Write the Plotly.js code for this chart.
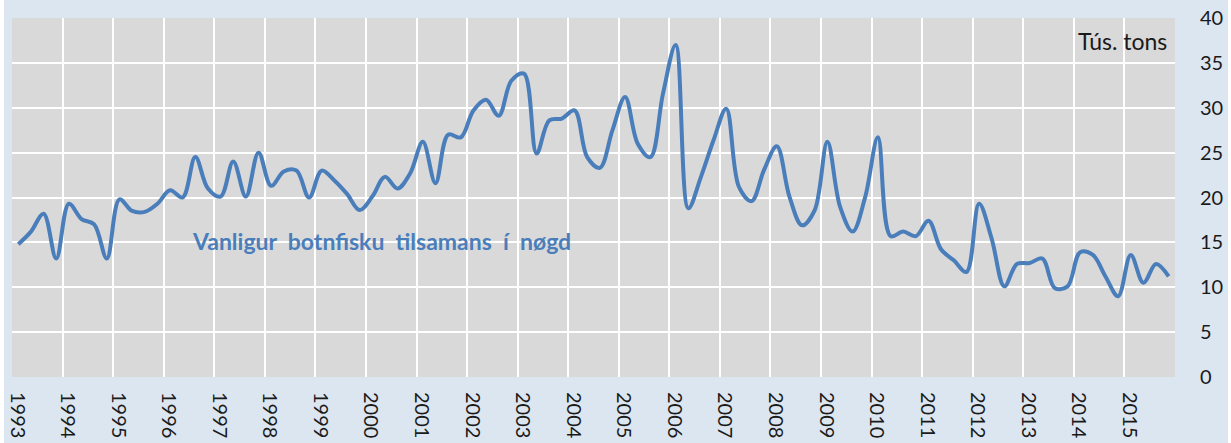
<!DOCTYPE html>
<html>
<head>
<meta charset="utf-8">
<script src="https://cdn.plot.ly/plotly-3.0.1.min.js"></script>
<style>html,body{margin:0;padding:0;background:#fff;}#chart{width:1231px;height:443px;}</style>
</head>
<body>
<div id="chart"></div>
<script>
// Years covered (quarterly data, 4 values per year)
const years = [1993,1994,1995,1996,1997,1998,1999,2000,2001,2002,2003,2004,2005,2006,2007,2008,2009,2010,2011,2012,2013,2014,2015];
const quarters = [1,2,3,4];
// Vanligur botnfisku tilsamans í nøgd (Tús. tons), quarterly
const catch1993 = [14.8,16.2,18.2,13.2];
const catch1994 = [19.3,17.6,17.0,13.2];
const catch1995 = [19.8,18.5,18.4,19.3];
const catch1996 = [20.8,20.0,24.5,21.0];
const catch1997 = [20.1,24.0,20.1,25.0];
const catch1998 = [21.3,22.9,23.0,20.0];
const catch1999 = [23.0,21.9,20.4,18.6];
const catch2000 = [20.1,22.3,21.0,22.7];
const catch2001 = [26.2,21.6,27.0,26.7];
const catch2002 = [29.7,30.9,29.1,33.0];
const catch2003 = [33.8,24.9,28.6,28.8];
const catch2004 = [29.7,24.5,23.3,27.5];
const catch2005 = [31.2,26.0,24.5,31.6];
const catch2006 = [37.0,18.8,22.3,26.4];
const catch2007 = [29.9,21.2,19.6,23.1];
const catch2008 = [25.7,20.1,16.9,18.6];
const catch2009 = [26.2,19.0,16.2,20.1];
const catch2010 = [26.7,15.7,16.2,15.7];
const catch2011 = [17.4,14.2,13.0,11.7];
const catch2012 = [19.3,15.4,10.1,12.6];
const catch2013 = [12.7,13.2,9.9,10.1];
const catch2014 = [13.9,13.6,11.2,9.0];
const catch2015 = [13.6,10.5,12.6,11.2];
const tickYears = [1993,1994,1995,1996,1997,1998,1999,2000,2001,2002,2003,2004,2005,2006,2007,2008,2009,2010,2011,2012,2013,2014,2015,2016];
const tickLabels = ["1993","1994","1995","1996","1997","1998","1999","2000","2001","2002","2003","2004","2005","2006","2007","2008","2009","2010","2011","2012","2013","2014","2015",""];
const seriesName = "Vanligur botnfisku tilsamans í nøgd";
const unitLabel = "Tús. tons";

const allYears = [catch1993,catch1994,catch1995,catch1996,catch1997,catch1998,catch1999,catch2000,catch2001,catch2002,catch2003,catch2004,catch2005,catch2006,catch2007,catch2008,catch2009,catch2010,catch2011,catch2012,catch2013,catch2014,catch2015];
const xs = [], ys = [];
years.forEach((yr, i) => {
  quarters.forEach((q, j) => {
    xs.push(yr + (q - 0.5) / 4);
    ys.push(allYears[i][j]);
  });
});

const W = 1231, H = 443, ml = 12, mr = 56, mt = 18, mb = 66;
const pw = W - ml - mr;

const trace = {
  x: xs, y: ys, type: 'scatter', mode: 'lines',
  line: {color: '#4a7ebb', width: 4, shape: 'spline', smoothing: 1},
  hoverinfo: 'x+y', showlegend: false
};

const layout = {
  width: W, height: H,
  margin: {l: ml, r: mr, t: mt, b: mb, pad: 0},
  paper_bgcolor: '#dce6f1',
  plot_bgcolor: '#d9d9d9',
  font: {family: 'Lato, "Open Sans", sans-serif', color: '#1a1a1a', size: 20},
  showlegend: false,
  xaxis: {
    range: [1993, 2016], tickmode: 'array', tickvals: tickYears, ticktext: tickLabels,
    tickangle: 90, showgrid: true, gridcolor: '#ffffff', gridwidth: 2,
    zeroline: false, showline: false, ticks: '', ticklabelshift: 5, ticklabelstandoff: 14,
    tickfont: {size: 20, color: '#1a1a1a'}, fixedrange: true
  },
  yaxis: {
    range: [0, 40], dtick: 5, tick0: 0, side: 'right', showgrid: true,
    gridcolor: '#ffffff', gridwidth: 2, zeroline: false, showline: false,
    ticks: '', ticklabelstandoff: 24, tickfont: {size: 20, color: '#1a1a1a'}, fixedrange: true
  },
  annotations: [
    {text: seriesName.split(' ').join('\u00A0\u00A0'), xref: 'x', yref: 'y', x: 1996.52, y: 15.2, xanchor: 'left', yanchor: 'middle',
     showarrow: false, font: {family: 'Lato, sans-serif', size: 23, color: '#4a7ebb', weight: 'bold'}},
    {text: unitLabel, xref: 'paper', yref: 'y', x: (1169 - ml) / pw, y: 37.4, xanchor: 'right', yanchor: 'middle',
     showarrow: false, font: {family: 'Lato, sans-serif', size: 23, color: '#1a1a1a'}}
  ],
  shapes: [
    {type: 'rect', xref: 'paper', yref: 'paper', x0: -0.05, x1: (4 - ml) / pw, y0: -1, y1: 2,
     fillcolor: '#ffffff', line: {width: 0}, layer: 'above'},
    {type: 'rect', xref: 'paper', yref: 'paper', x0: (1228 - ml) / pw, x1: 1.2, y0: -1, y1: 2,
     fillcolor: '#ffffff', line: {width: 0}, layer: 'above'}
  ]
};

Plotly.newPlot('chart', [trace], layout, {displayModeBar: false, staticPlot: true});
</script>
</body>
</html>
